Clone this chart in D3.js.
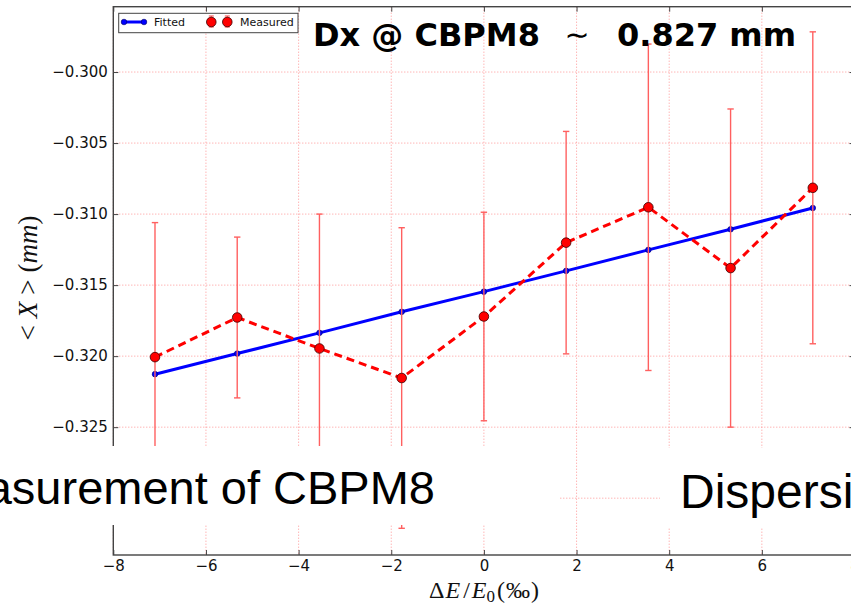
<!DOCTYPE html>
<html>
<head>
<meta charset="utf-8">
<script src="https://cdn.jsdelivr.net/npm/d3@7"></script>
<style>
  html, body { margin: 0; padding: 0; background: #fff; }
  svg { display: block; }
</style>
</head>
<body>
<svg id="chart" width="851" height="608"></svg>
<script>
// Energy offsets ΔE/E0 (‰) of each scan step
const energy = [-7.1, -5.325, -3.55, -1.775, 0, 1.775, 3.55, 5.325, 7.1];
// Measured mean orbit <X> (mm) and its error
const measured = [-0.32007, -0.31728, -0.31946, -0.32154, -0.31721, -0.31201, -0.30952, -0.31380, -0.30815];
const measuredErr = [0.00947, 0.00566, 0.00946, 0.01058, 0.00734, 0.00783, 0.01149, 0.01120, 0.01098];
// Linear fit through the measured points
const fitted = [-0.32127, -0.31982, -0.31836, -0.31688, -0.31546, -0.31400, -0.31252, -0.31107, -0.30957];

const xTicks = [-8, -6, -4, -2, 0, 2, 4, 6, 8];
const yTicks = [-0.300, -0.305, -0.310, -0.315, -0.320, -0.325];
const yGrid = [-0.300, -0.305, -0.310, -0.315, -0.320, -0.325, -0.330];

const titleMain = "Dx @ CBPM8";
const titleSim = "\u223C";
const titleValue = "0.827 mm";
const slideLeftText = "Measurement of CBPM8";
const slideRightText = "Dispersion";

const svg = d3.select("#chart");

const x = d3.scaleLinear().domain([-8, 8]).range([113.3, 854.5]);
const y = d3.scaleLinear().domain([-0.334, -0.2954]).range([555, 6.7]);

const pLeft = x.range()[0], pRight = x.range()[1];
const pTop = y.range()[1], pBottom = y.range()[0];

// dotted grid
const grid = svg.append("g")
  .attr("stroke", "#ff8a8a")
  .attr("stroke-width", 0.9)
  .attr("stroke-dasharray", "1,2");
grid.selectAll("line.gx").data(xTicks).join("line")
  .attr("x1", d => x(d)).attr("x2", d => x(d))
  .attr("y1", pTop).attr("y2", pBottom);
grid.selectAll("line.gy").data(yGrid).join("line")
  .attr("x1", pLeft).attr("x2", pRight)
  .attr("y1", d => y(d)).attr("y2", d => y(d));

// fitted line
const line = d3.line().x((d, i) => x(energy[i])).y(d => y(d));
svg.append("path")
  .datum(fitted)
  .attr("d", line)
  .attr("fill", "none")
  .attr("stroke", "#0000ff")
  .attr("stroke-width", 3);
svg.append("g").selectAll("circle").data(fitted).join("circle")
  .attr("cx", (d, i) => x(energy[i]))
  .attr("cy", d => y(d))
  .attr("r", 2.8)
  .attr("fill", "#0000ff")
  .attr("stroke", "#000060")
  .attr("stroke-width", 0.6);

// error bars
const eb = svg.append("g")
  .attr("stroke", "#ff6060")
  .attr("stroke-width", 1.4);
const capW = 3.2;
measured.forEach((m, i) => {
  const cx = x(energy[i]);
  const y1 = y(m + measuredErr[i]), y2 = y(m - measuredErr[i]);
  eb.append("line").attr("x1", cx).attr("x2", cx).attr("y1", y1).attr("y2", y2);
  eb.append("line").attr("x1", cx - capW).attr("x2", cx + capW).attr("y1", y1).attr("y2", y1);
  eb.append("line").attr("x1", cx - capW).attr("x2", cx + capW).attr("y1", y2).attr("y2", y2);
});

// measured dashed line and markers
svg.append("path")
  .datum(measured)
  .attr("d", line)
  .attr("fill", "none")
  .attr("stroke", "#ff0000")
  .attr("stroke-width", 3)
  .attr("stroke-dasharray", "8,5");
svg.append("g").selectAll("circle").data(measured).join("circle")
  .attr("cx", (d, i) => x(energy[i]))
  .attr("cy", d => y(d))
  .attr("r", 4.8)
  .attr("fill", "#ff0000")
  .attr("stroke", "#3a0000")
  .attr("stroke-width", 0.8);

// axes with inward ticks on all four sides
function styleAxis(g) {
  g.attr("font-family", "'DejaVu Sans', sans-serif").attr("font-size", 15);
  g.select(".domain").remove();
  g.selectAll(".tick line").attr("stroke", "#444").attr("stroke-width", 1);
  g.selectAll(".tick text").attr("fill", "#111");
}
svg.append("g")
  .attr("transform", `translate(0,${pBottom})`)
  .call(d3.axisBottom(x).tickValues(xTicks).tickFormat(d3.format("d")).tickSize(-5).tickPadding(5))
  .call(styleAxis);
svg.append("g")
  .attr("transform", `translate(0,${pTop})`)
  .call(d3.axisTop(x).tickValues(xTicks).tickFormat("").tickSize(-5))
  .call(styleAxis);
svg.append("g")
  .attr("transform", `translate(${pLeft},0)`)
  .call(d3.axisLeft(y).tickValues(yTicks).tickFormat(d3.format(".3f")).tickSize(-5).tickPadding(5.5))
  .call(styleAxis);
svg.append("g")
  .attr("transform", `translate(${pRight},0)`)
  .call(d3.axisRight(y).tickValues(yGrid).tickFormat("").tickSize(-5))
  .call(styleAxis);

// spines
svg.append("rect")
  .attr("x", pLeft).attr("y", pTop)
  .attr("width", pRight - pLeft).attr("height", pBottom - pTop)
  .attr("fill", "none")
  .attr("stroke", "#444")
  .attr("stroke-width", 1.4);

// axis labels
const ylab = svg.append("text")
  .attr("transform", "translate(37,278) rotate(-90)")
  .attr("text-anchor", "middle")
  .attr("font-family", "'Liberation Serif', serif")
  .attr("font-size", 27)
  .attr("fill", "#111");
ylab.append("tspan").text("<");
ylab.append("tspan").attr("dx", 7).attr("font-style", "italic").text("X");
ylab.append("tspan").attr("dx", 7).text(">");
ylab.append("tspan").attr("dx", 7).text("(");
ylab.append("tspan").attr("font-style", "italic").text("mm");
ylab.append("tspan").text(")");

const xlab = svg.append("text")
  .attr("x", 484).attr("y", 598)
  .attr("text-anchor", "middle")
  .attr("font-family", "'Liberation Serif', serif")
  .attr("font-size", 24)
  .attr("fill", "#111");
xlab.append("tspan").text("\u0394");
xlab.append("tspan").attr("dx", 1).attr("font-style", "italic").text("E");
xlab.append("tspan").attr("dx", 3).text("/");
xlab.append("tspan").attr("dx", 2).attr("font-style", "italic").text("E");
xlab.append("tspan").attr("font-size", 17).attr("dy", 4).text("0");
xlab.append("tspan").attr("dx", 2).attr("dy", -4).text("(");
xlab.append("tspan").attr("dx", 1).text("\u2030");
xlab.append("tspan").attr("dx", 1).text(")");

// title annotation
const tFont = "'DejaVu Sans', sans-serif";
svg.append("text")
  .attr("x", 313).attr("y", 46)
  .attr("font-family", tFont).attr("font-weight", "bold").attr("font-size", 32)
  .attr("fill", "#000")
  .text(titleMain);
svg.append("text")
  .attr("x", 577).attr("y", 45)
  .attr("text-anchor", "middle")
  .attr("font-family", tFont).attr("font-size", 30)
  .attr("fill", "#000")
  .text(titleSim);
svg.append("text")
  .attr("x", 617).attr("y", 46)
  .attr("font-family", tFont).attr("font-weight", "bold").attr("font-size", 32)
  .attr("fill", "#000")
  .text(titleValue);

// legend
const lg = svg.append("g");
lg.append("rect")
  .attr("x", 118.7).attr("y", 13.3).attr("width", 179.3).attr("height", 19.4)
  .attr("fill", "#fff").attr("stroke", "#444").attr("stroke-width", 1);
lg.append("line")
  .attr("x1", 124).attr("x2", 144).attr("y1", 22).attr("y2", 22)
  .attr("stroke", "#0000ff").attr("stroke-width", 3);
[124, 144].forEach(px => lg.append("circle")
  .attr("cx", px).attr("cy", 22).attr("r", 2.8)
  .attr("fill", "#0000ff").attr("stroke", "#000060").attr("stroke-width", 0.6));
lg.append("text")
  .attr("x", 154).attr("y", 26)
  .attr("font-family", tFont).attr("font-size", 11).attr("fill", "#111")
  .text("Fitted");
[211.3, 227.3].forEach(px => {
  lg.append("line").attr("x1", px).attr("x2", px).attr("y1", 16).attr("y2", 27)
    .attr("stroke", "#ff6060").attr("stroke-width", 1.2);
  lg.append("line").attr("x1", px - 2.5).attr("x2", px + 2.5).attr("y1", 16).attr("y2", 16)
    .attr("stroke", "#ff6060").attr("stroke-width", 1.2);
  lg.append("line").attr("x1", px - 2.5).attr("x2", px + 2.5).attr("y1", 27).attr("y2", 27)
    .attr("stroke", "#ff6060").attr("stroke-width", 1.2);
  lg.append("circle").attr("cx", px).attr("cy", 22).attr("r", 4.8)
    .attr("fill", "#ff0000").attr("stroke", "#3a0000").attr("stroke-width", 0.8);
});
lg.append("text")
  .attr("x", 240).attr("y", 26)
  .attr("font-family", tFont).attr("font-size", 11).attr("fill", "#111")
  .text("Measured");

// slide caption boxes lying over the plot
const sFont = "'Liberation Sans', Arial, sans-serif";
const leftBox = svg.append("g");
leftBox.append("rect").attr("x", 0).attr("y", 446).attr("width", 559).attr("height", 79).attr("fill", "#fff");
leftBox.append("text")
  .attr("x", 435).attr("y", 504)
  .attr("text-anchor", "end")
  .attr("font-family", sFont).attr("font-size", 47).attr("fill", "#000")
  .text(slideLeftText);
const rightBox = svg.append("g");
rightBox.append("rect").attr("x", 660).attr("y", 448).attr("width", 191).attr("height", 80).attr("fill", "#fff");
rightBox.append("text")
  .attr("x", 680).attr("y", 508)
  .attr("font-family", sFont).attr("font-size", 48).attr("fill", "#000")
  .text(slideRightText);
</script>
</body>
</html>
